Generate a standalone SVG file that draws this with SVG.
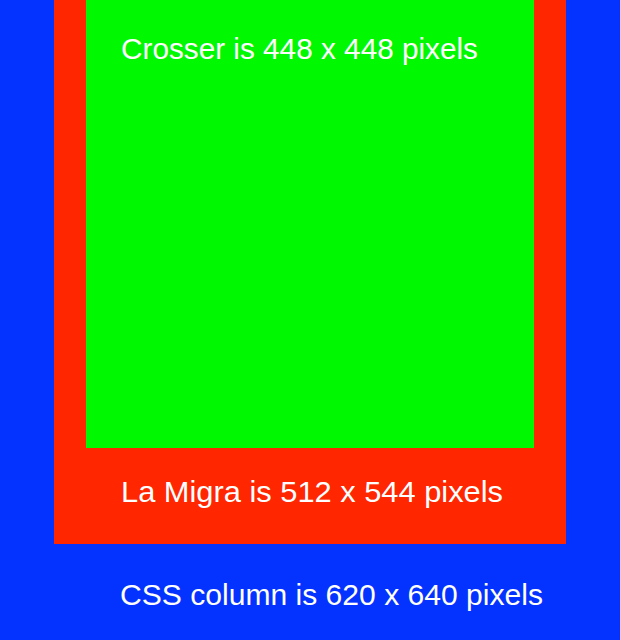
<svg xmlns="http://www.w3.org/2000/svg" width="620" height="640" viewBox="0 0 620 640">
<style>
text{font-family:"Liberation Sans",Arial,sans-serif;font-size:29.5px;fill:#fff}
</style>
<g id="css-column"><rect x="0" y="0" width="620" height="640" fill="#0433FF"/></g>
<g id="la-migra"><rect x="54" y="0" width="512" height="544" fill="#FF2600"/></g>
<g id="crosser"><rect x="86" y="0" width="448" height="448" fill="#00F900"/></g>
<g id="labels">
<text x="121" y="59" textLength="357" lengthAdjust="spacingAndGlyphs">Crosser is 448 x 448 pixels</text>
<text x="121" y="502" textLength="382" lengthAdjust="spacingAndGlyphs">La Migra is 512 x 544 pixels</text>
<text x="120" y="605" textLength="423" lengthAdjust="spacingAndGlyphs">CSS column is 620 x 640 pixels</text>
</g>
</svg>
